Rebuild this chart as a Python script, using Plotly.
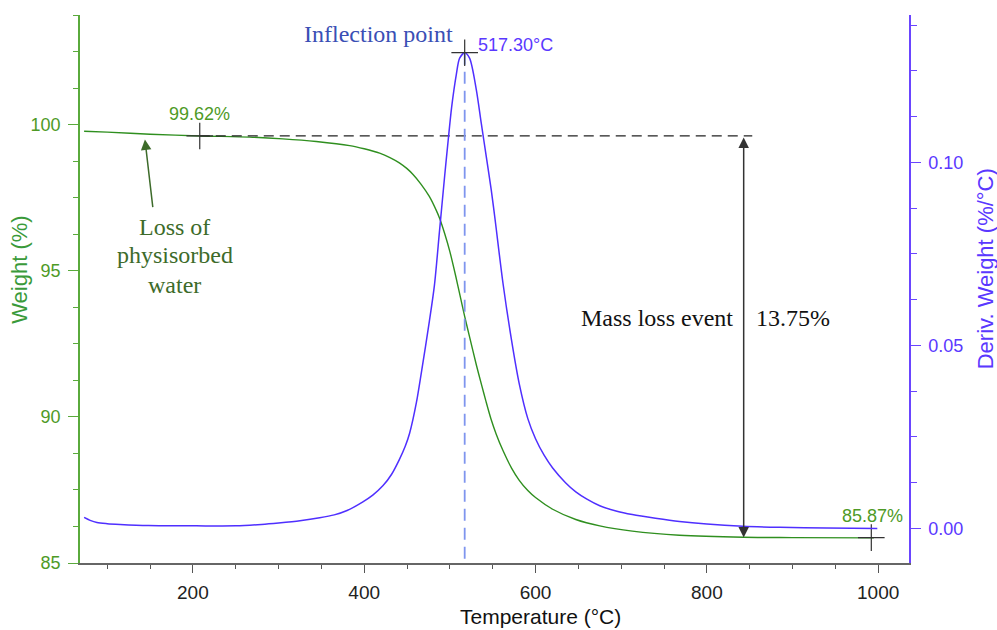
import plotly.graph_objects as go

# ---------------- data ----------------
temp_w = [73, 100, 150, 208, 266, 305, 344, 383, 400, 418,
          430, 441, 450, 457, 466, 476, 484, 488, 494, 500,
          507, 511, 517, 523, 531, 537, 542, 548, 554, 562,
          572, 581, 591, 600, 620, 647, 675, 713, 768, 843,
          900, 995]
weight = [99.78, 99.75, 99.68, 99.62, 99.58, 99.52, 99.43, 99.29, 99.18, 99.03,
          98.88, 98.70, 98.50, 98.30, 97.98, 97.55, 97.08, 96.80, 96.27, 95.66,
          94.80, 94.27, 93.48, 92.74, 91.77, 91.10, 90.55, 89.93, 89.42, 88.85,
          88.25, 87.83, 87.48, 87.24, 86.84, 86.49, 86.27, 86.09, 85.95, 85.88,
          85.87, 85.86]

temp_d = [73, 80, 88, 100, 115, 148, 204, 250, 280, 300,
          325, 348, 365, 380, 398, 410, 422, 432, 441, 448,
          453, 461, 467, 476, 482, 488, 494, 498, 502, 507.5,
          511.4, 517.3, 523, 530.8, 536.6, 542.5, 548.3, 553, 562, 571.6,
          581, 591, 600, 610, 620, 635, 647, 660, 675, 695,
          713, 740, 768, 800, 842, 885, 940, 999]
deriv = [0.0030, 0.0022, 0.0016, 0.0013, 0.0011, 0.0008, 0.0007, 0.0007, 0.0011, 0.0015,
         0.0021, 0.0029, 0.0037, 0.0049, 0.0072, 0.0091, 0.0117, 0.0148, 0.0188, 0.0225,
         0.0260, 0.0345, 0.0430, 0.0565, 0.0665, 0.0815, 0.0965, 0.1060, 0.1150, 0.1240,
         0.1285, 0.1300, 0.1285, 0.1200, 0.1108, 0.1016, 0.0925, 0.0840, 0.0670, 0.0520,
         0.0395, 0.0300, 0.0245, 0.0200, 0.0165, 0.0125, 0.0100, 0.0080, 0.0062, 0.0047,
         0.0038, 0.0028, 0.0019, 0.0012, 0.0006, 0.0003, 0.0001, 0.0000]

# marked points
start_temp, start_weight = 208, 99.62
end_temp, end_weight = 992, 85.87
peak_temp, peak_deriv = 517.3, 0.130
dashed_end_temp = 853
event_temp = 843
mass_loss = 13.75

x_ticks = [200, 400, 600, 800, 1000]

# ---------------- styles ----------------
GREEN_LINE = "#2f8f1f"
GREEN_AX = "#5aaa3c"
GREEN_TXT = "#4e9a26"
GREEN_TITLE = "#3a9a3a"
BLUE_LINE = "#4f2fff"
BLUE_AX = "#6a45ff"
BLUE_TXT = "#5a38ff"
SANS = "Liberation Sans, Arial, sans-serif"
SERIF = "Liberation Serif, Times New Roman, serif"

fig = go.Figure()

fig.add_trace(go.Scatter(x=temp_w, y=weight, mode="lines", yaxis="y",
                         line=dict(color=GREEN_LINE, width=1.4, shape="spline", smoothing=0.8),
                         hoverinfo="skip", showlegend=False))
fig.add_trace(go.Scatter(x=temp_d, y=deriv, mode="lines", yaxis="y2",
                         line=dict(color=BLUE_LINE, width=1.5, shape="spline", smoothing=0.8),
                         hoverinfo="skip", showlegend=False))

# dashed horizontal reference at starting weight
fig.add_trace(go.Scatter(x=[start_temp, dashed_end_temp], y=[start_weight, start_weight],
                         mode="lines", yaxis="y",
                         line=dict(color="#222", width=1.2, dash="10px,6px"),
                         hoverinfo="skip", showlegend=False))
# vertical dashed line at inflection
fig.add_trace(go.Scatter(x=[peak_temp, peak_temp], y=[peak_deriv, -0.00945], mode="lines",
                         yaxis="y2", line=dict(color="#7f95ee", width=1.8, dash="12px,7px"),
                         hoverinfo="skip", showlegend=False))

# cross markers
fig.add_trace(go.Scatter(x=[start_temp, end_temp], y=[start_weight, end_weight], mode="markers",
                         yaxis="y",
                         marker=dict(symbol="cross-thin", size=19, line=dict(color="#333", width=1.2)),
                         hoverinfo="skip", showlegend=False))
fig.add_trace(go.Scatter(x=[peak_temp], y=[peak_deriv], mode="markers", yaxis="y2",
                         marker=dict(symbol="cross-thin", size=19, line=dict(color="#333", width=1.2)),
                         hoverinfo="skip", showlegend=False))

annotations = [
    # axis titles
    dict(text="Weight (%)", xref="paper", yref="paper", x=-0.0724, y=0.535, textangle=-90,
         xanchor="center", yanchor="middle",
         showarrow=False, font=dict(family=SANS, size=22, color=GREEN_TITLE)),
    dict(text="Deriv. Weight (%/°C)", xref="paper", yref="paper", x=1.0917, y=0.536, textangle=-90,
         xanchor="center", yanchor="middle",
         showarrow=False, font=dict(family=SANS, size=22, color=BLUE_TXT)),
    dict(text="Temperature (°C)", xref="paper", yref="paper", x=0.555, y=-0.0985,
         xanchor="center", yanchor="middle",
         showarrow=False, font=dict(family=SANS, size=21, color="#111")),
    # value labels
    dict(text="%.2f%%" % start_weight, x=start_temp, y=start_weight, xref="x", yref="y",
         yshift=22, showarrow=False, font=dict(family=SANS, size=18, color=GREEN_TXT)),
    dict(text="%.2f%%" % end_weight, x=end_temp, y=end_weight, xref="x", yref="y",
         yshift=22, xshift=1, showarrow=False, font=dict(family=SANS, size=18, color=GREEN_TXT)),
    dict(text="%.2f°C" % peak_temp, x=peak_temp, y=peak_deriv, xref="x", yref="y2",
         xanchor="left", xshift=11, yshift=8, showarrow=False,
         font=dict(family=SANS, size=18, color=BLUE_TXT)),
    dict(text="Inflection point", x=417, y=103.1, xref="x", yref="y", showarrow=False,
         font=dict(family=SERIF, size=24, color="#3a4fb5")),
    # physisorbed water
    dict(text="Loss of", x=179, y=96.51, xref="x", yref="y", showarrow=False,
         font=dict(family=SERIF, size=24, color="#3d6b2a")),
    dict(text="physisorbed", x=179, y=95.55, xref="x", yref="y", showarrow=False,
         font=dict(family=SERIF, size=24, color="#3d6b2a")),
    dict(text="water", x=179, y=94.53, xref="x", yref="y", showarrow=False,
         font=dict(family=SERIF, size=24, color="#3d6b2a")),
    dict(text="", x=144, y=99.5, ax=153.4, ay=97.13, xref="x", yref="y", axref="x", ayref="y",
         showarrow=True, arrowhead=2, arrowsize=1.4, arrowwidth=1.5, arrowcolor="#3d6b2a"),
    # mass loss event
    dict(text="", x=event_temp, y=start_weight - mass_loss, ax=event_temp, ay=start_weight,
         xref="x", yref="y", axref="x", ayref="y", showarrow=True, arrowside="end+start",
         arrowhead=2, startarrowhead=2, arrowsize=1.4, startarrowsize=1.4, arrowwidth=1.5,
         arrowcolor="#333"),
    dict(text="Mass loss event", x=event_temp, y=93.4, xref="x", yref="y", xanchor="right",
         xshift=-9, showarrow=False, font=dict(family=SERIF, size=24, color="#111")),
    dict(text="%.2f%%" % mass_loss, x=event_temp, y=93.4, xref="x", yref="y", xanchor="left",
         xshift=10, showarrow=False, font=dict(family=SERIF, size=24, color="#111")),
]

fig.update_layout(
    width=997, height=630,
    margin=dict(l=80, r=88, t=15, b=67),
    paper_bgcolor="white", plot_bgcolor="white",
    showlegend=False,
    annotations=annotations,
    xaxis=dict(range=[68.2, 1036], tickvals=x_ticks, showgrid=False, zeroline=False,
               showline=True, linecolor="#666", linewidth=1.5,
               ticks="outside", ticklen=8, tickwidth=1.2, tickcolor="#555",
               ticklabelstandoff=3,
               tickfont=dict(family=SANS, size=19, color="#222"),
               minor=dict(dtick=50, tick0=0, ticks="outside", ticklen=4, tickcolor="#555",
                          tickwidth=1, showgrid=False)),
    yaxis=dict(range=[85, 103.76], tick0=85, dtick=5, showgrid=False, zeroline=False,
               showline=True, linecolor=GREEN_AX, linewidth=1.5,
               ticks="outside", ticklen=10, tickwidth=1.2, tickcolor=GREEN_AX,
               ticklabelstandoff=4,
               tickfont=dict(family=SANS, size=18, color=GREEN_TXT),
               minor=dict(dtick=1.25, tick0=85, ticks="outside", ticklen=5, tickcolor=GREEN_AX,
                          tickwidth=1, showgrid=False)),
    yaxis2=dict(range=[-0.00945, 0.1403], overlaying="y", side="right", tick0=0, dtick=0.05,
                tickformat=".2f", showgrid=False, zeroline=False,
                showline=True, linecolor=BLUE_AX, linewidth=1.5,
                ticks="outside", ticklen=10, tickwidth=1.2, tickcolor=BLUE_AX,
                ticklabelstandoff=4,
                tickfont=dict(family=SANS, size=18, color=BLUE_TXT),
                minor=dict(dtick=0.0125, tick0=0, ticks="outside", ticklen=6, tickcolor=BLUE_AX,
                           tickwidth=1, showgrid=False)),
)

fig.write_html("out.html",
               config={"displayModeBar": False},
               post_script="document.body.style.margin='0';document.body.style.overflow='hidden';")
